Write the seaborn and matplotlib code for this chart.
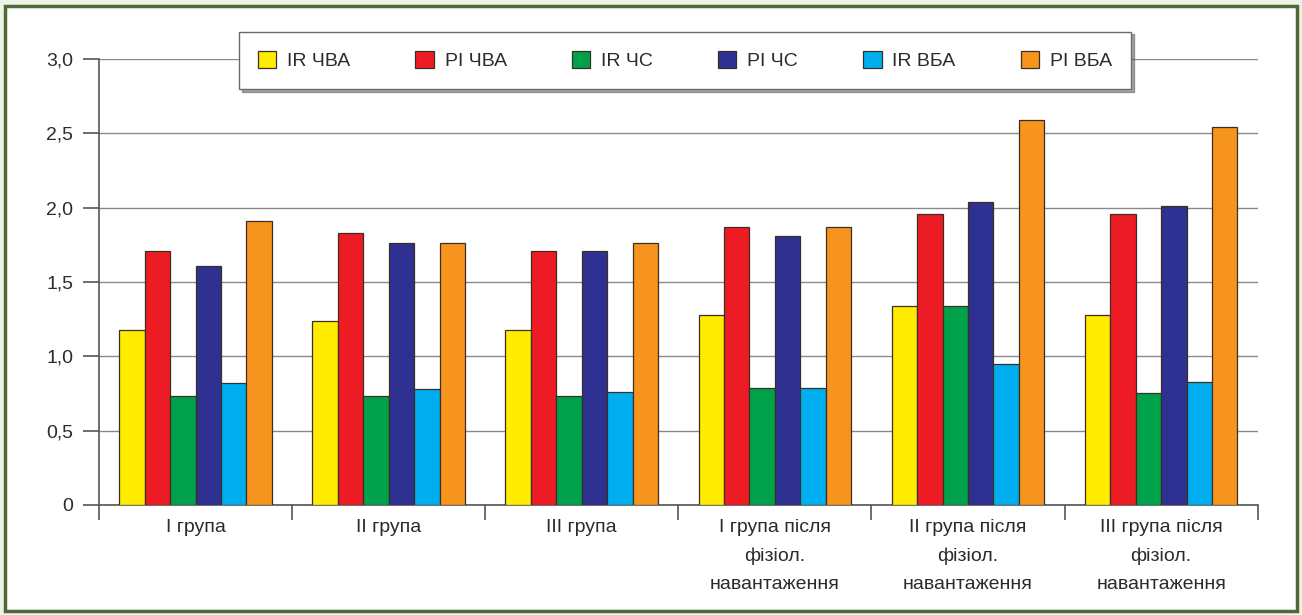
import numpy as np
import pandas as pd
import matplotlib
matplotlib.use("Agg")
import matplotlib.pyplot as plt
from matplotlib.patches import Rectangle
from matplotlib.ticker import FixedLocator, FuncFormatter
import seaborn as sns

# Groups and series
groups = [
    "I група",
    "II група",
    "III група",
    "I група після\nфізіол.\nнавантаження",
    "II група після\nфізіол.\nнавантаження",
    "III група після\nфізіол.\nнавантаження",
]
series = ["IR ЧВА", "PI ЧВА", "IR ЧС", "PI ЧС", "IR ВБА", "PI ВБА"]

ir_cva = [1.18, 1.24, 1.18, 1.28, 1.34, 1.28]
pi_cva = [1.71, 1.83, 1.71, 1.87, 1.96, 1.96]
ir_cs = [0.73, 0.73, 0.73, 0.79, 1.34, 0.75]
pi_cs = [1.61, 1.76, 1.71, 1.81, 2.04, 2.01]
ir_vba = [0.82, 0.78, 0.76, 0.79, 0.95, 0.83]
pi_vba = [1.91, 1.76, 1.76, 1.87, 2.59, 2.54]

colors = ["#FFEC00", "#ED1C24", "#00A14B", "#2E3192", "#00AEEF", "#F7941D"]

values = [ir_cva, pi_cva, ir_cs, pi_cs, ir_vba, pi_vba]
df = pd.DataFrame(
    [(g, s, v) for s, vals in zip(series, values) for g, v in zip(groups, vals)],
    columns=["group", "series", "value"],
)

sns.set_theme(style="white")
plt.rcParams["font.family"] = ["Liberation Sans Narrow", "Liberation Sans", "DejaVu Sans"]
text_color = "#2b2b2b"

fig = plt.figure(figsize=(13.02, 6.15), dpi=100)
fig.patch.set_facecolor("#eef3e8")
fig.patches.append(Rectangle((0.004, 0.006), 0.992, 0.984, transform=fig.transFigure,
                             facecolor="white", edgecolor="#4d6a35", linewidth=2.5,
                             zorder=-10))

ax = fig.add_axes([0.076, 0.179, 0.890, 0.725])
ax.set_facecolor("none")

sns.barplot(data=df, x="group", y="value", hue="series", order=groups,
            hue_order=series, palette=colors, width=0.79, saturation=1,
            edgecolor="#3b2f25", linewidth=0.9, ax=ax, zorder=3, legend=True)

ax.set_xlim(-0.5, len(groups) - 0.5)
ax.set_ylim(0, 3.0)
ax.set_yticks(np.arange(0, 3.01, 0.5))
ax.yaxis.set_major_formatter(FuncFormatter(
    lambda v, p: "0" if v == 0 else f"{v:.1f}".replace(".", ",")))
ax.grid(axis="y", color="#8a8a8a", linewidth=1.0, zorder=0)
ax.set_axisbelow(True)

# group separators as ticks; group names as untick'd minor labels
ax.xaxis.set_major_locator(FixedLocator(np.arange(-0.5, len(groups), 1.0)))
ax.xaxis.set_major_formatter(FuncFormatter(lambda v, p: ""))
ax.xaxis.set_minor_locator(FixedLocator(np.arange(len(groups))))
ax.set_xticklabels(groups, minor=True, linespacing=1.85)
ax.tick_params(axis="x", which="major", direction="out", length=11, width=1.2,
               color="#555555", bottom=True)
ax.tick_params(axis="x", which="minor", length=0, pad=10, labelsize=14,
               labelcolor=text_color)
ax.tick_params(axis="y", direction="out", length=11.5, width=1.2, color="#555555",
               left=True, pad=7, labelsize=14, labelcolor=text_color)
ax.set_xlabel("")
ax.set_ylabel("")

for side in ["top", "right"]:
    ax.spines[side].set_visible(False)
for side in ["left", "bottom"]:
    ax.spines[side].set_color("#555555")
    ax.spines[side].set_linewidth(1.2)

handles, labels = ax.get_legend_handles_labels()
ax.legend_.remove()
leg = fig.legend(handles, labels, ncol=6, loc="center",
                 bbox_to_anchor=(0.526, 0.902), frameon=True, fancybox=False,
                 shadow=True, fontsize=14, handlelength=0.95, handleheight=0.95,
                 handletextpad=0.55, columnspacing=3.35, borderpad=0.98,
                 labelcolor=text_color)
leg.get_frame().set_edgecolor("#6a6a6a")
leg.get_frame().set_linewidth(1.0)
for h in leg.legend_handles:
    h.set_edgecolor("#3b2f25")
    h.set_linewidth(0.9)

fig.savefig("out.png", dpi=100, facecolor=fig.get_facecolor())
